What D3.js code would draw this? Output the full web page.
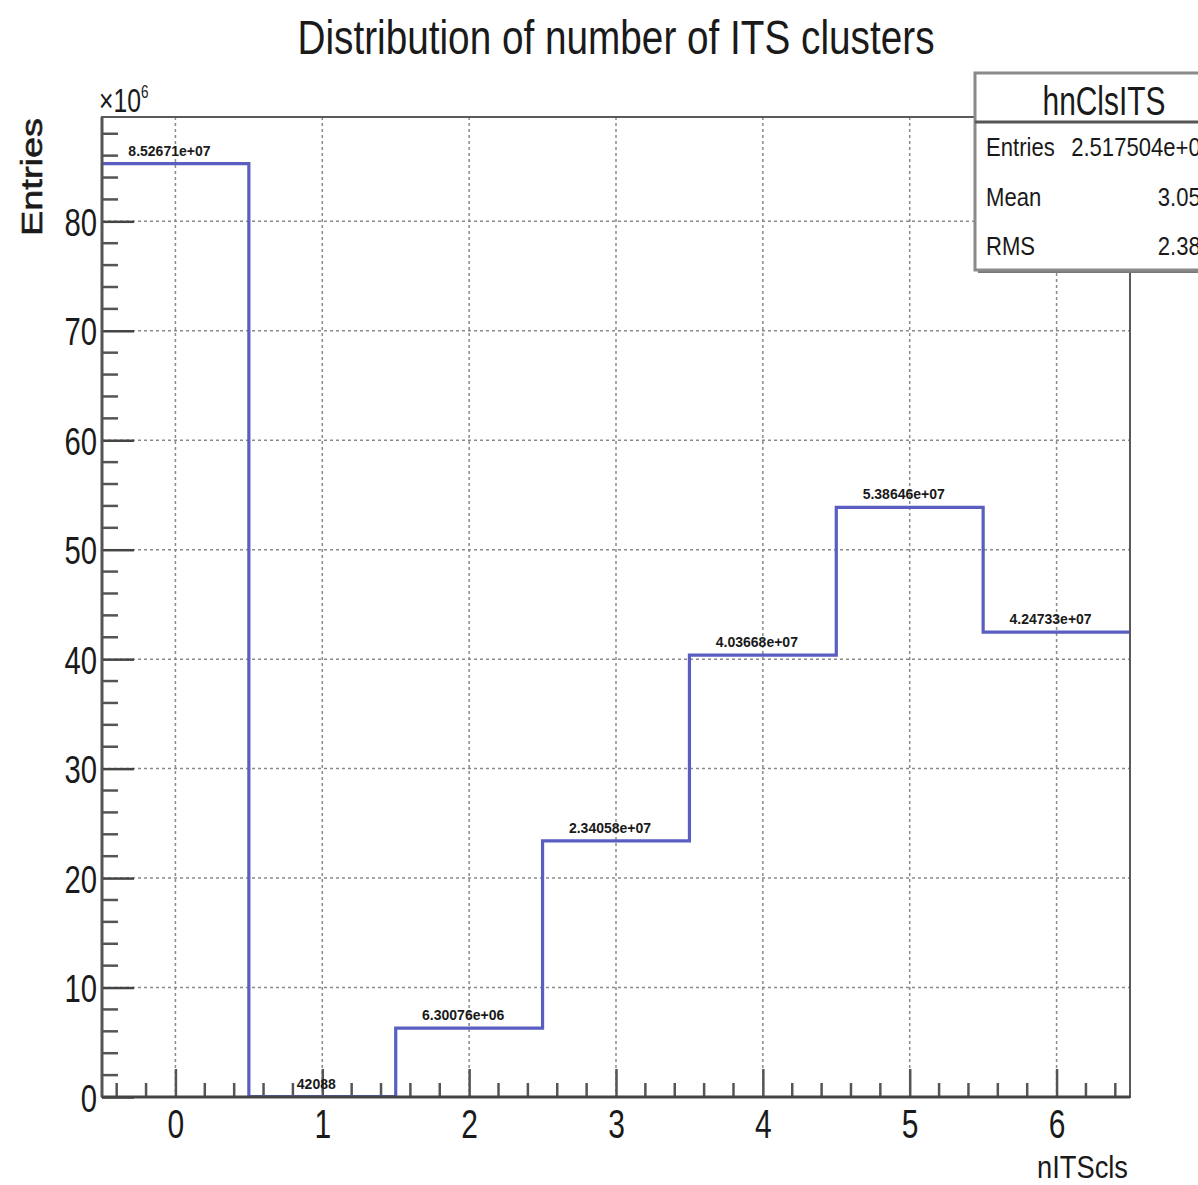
<!DOCTYPE html>
<html>
<head>
<meta charset="utf-8">
<script src="https://cdn.jsdelivr.net/npm/d3@7"></script>
<style>
  html, body { margin: 0; padding: 0; background: #fff; }
  svg { display: block; }
  text { font-family: "Liberation Sans", Arial, sans-serif; fill: #1a1a1a; }
</style>
</head>
<body>
<svg id="chart" width="1198" height="1185"></svg>
<script>
// Histogram hnClsITS: number of ITS clusters per track
const binCenters = [0, 1, 2, 3, 4, 5, 6];
const binCounts = [85267100, 42088, 6300760, 23405800, 40366800, 53864600, 42473300];
const xTicks = [0, 1, 2, 3, 4, 5, 6];
const yTicks = [0, 10, 20, 30, 40, 50, 60, 70, 80];   // in units of 10^6
const statsNames = ["Entries", "Mean", "RMS"];
const statsValues = ["2.517504e+08", "3.055", "2.383"];
const histName = "hnClsITS";
const titleText = "Distribution of number of ITS clusters";
const xTitle = "nITScls";
const yTitle = "Entries";

const plot = { left: 102, right: 1130, top: 117, bottom: 1097 };
const scaleUnit = 1e6;
const squeeze = 0.75;   // horizontal compression of the canvas text

const svg = d3.select("#chart");

const x = d3.scaleLinear().domain([-0.5, 6.5]).range([plot.left, plot.right]);
const yMax = d3.max(binCounts) * 1.05 / scaleUnit;
const y = d3.scaleLinear().domain([0, yMax]).range([plot.bottom, plot.top]);

// %g-style formatting (6 significant digits, two-digit exponent)
function formatG(v) {
  const exp = Math.floor(Math.log10(Math.abs(v)));
  if (exp >= 6 || exp < -4) {
    let s = d3.format(".5e")(v).replace(/\.?0+e/, "e");
    return s.replace(/e([+-])(\d)$/, "e$10$2");
  }
  return d3.format(".6~g")(v);
}

// grid
const grid = svg.append("g").attr("stroke", "#8a8a8a").attr("stroke-width", 1.5)
  .attr("stroke-dasharray", "3,3");
grid.selectAll("line.gx").data(xTicks).join("line")
  .attr("x1", d => x(d)).attr("x2", d => x(d))
  .attr("y1", plot.top).attr("y2", plot.bottom);
grid.selectAll("line.gy").data(yTicks.filter(d => d > 0)).join("line")
  .attr("x1", plot.left).attr("x2", plot.right)
  .attr("y1", d => y(d)).attr("y2", d => y(d));

// y axis ticks (inside), major every 10, minor every 2
const yAxis = d3.axisLeft(y).tickValues(yTicks).tickSize(-32).tickFormat(d3.format("d"));
const gy = svg.append("g").attr("transform", `translate(${plot.left},0)`).call(yAxis);
gy.select(".domain").remove();
gy.selectAll(".tick line").attr("stroke", "#444").attr("stroke-width", 2.5);
gy.selectAll(".tick text")
  .attr("x", 0).attr("dy", "0.36em")
  .attr("transform", `translate(-5,0) scale(${squeeze},1)`)
  .attr("text-anchor", "end")
  .style("font-size", "39px").attr("fill", "#1a1a1a");
const yMinor = d3.range(0, yMax, 2).filter(d => d % 10 !== 0);
svg.append("g").selectAll("line").data(yMinor).join("line")
  .attr("x1", plot.left).attr("x2", plot.left + 16)
  .attr("y1", d => y(d)).attr("y2", d => y(d))
  .attr("stroke", "#555").attr("stroke-width", 2.5);

// x axis ticks (inside), major every 1, minor every 0.2
const xAxis = d3.axisBottom(x).tickValues(xTicks).tickSize(-28).tickFormat(d3.format("d"));
const gx = svg.append("g").attr("transform", `translate(0,${plot.bottom})`).call(xAxis);
gx.select(".domain").remove();
gx.selectAll(".tick line").attr("stroke", "#555").attr("stroke-width", 2.5);
gx.selectAll(".tick text")
  .attr("y", 0).attr("dy", 0)
  .attr("transform", `translate(0,41) scale(${squeeze},1)`)
  .style("font-size", "40px").attr("fill", "#1a1a1a");
const xMinor = d3.range(-0.4, 6.5, 0.2).map(d => +d.toFixed(1))
  .filter(d => Math.abs(d - Math.round(d)) > 1e-6);
svg.append("g").selectAll("line").data(xMinor).join("line")
  .attr("x1", d => x(d)).attr("x2", d => x(d))
  .attr("y1", plot.bottom).attr("y2", plot.bottom - 14)
  .attr("stroke", "#555").attr("stroke-width", 2.5);

// histogram outline
const steps = [];
binCenters.forEach((c, i) => {
  const v = binCounts[i] / scaleUnit;
  steps.push([c - 0.5, v], [c + 0.5, v]);
});
const stepLine = d3.line().x(d => x(d[0])).y(d => y(d[1]));
svg.append("clipPath").attr("id", "plotclip").append("rect")
  .attr("x", plot.left).attr("y", plot.top)
  .attr("width", plot.right - plot.left).attr("height", plot.bottom - plot.top);
svg.append("path").datum(steps)
  .attr("clip-path", "url(#plotclip)")
  .attr("d", stepLine)
  .attr("fill", "none").attr("stroke", "#5a5ec0").attr("stroke-width", 3.2);

// bin content labels
svg.append("g").selectAll("text").data(binCenters).join("text")
  .attr("x", d => x(d) - 6)
  .attr("y", (d, i) => y(binCounts[i] / scaleUnit) - 8)
  .attr("text-anchor", "middle")
  .style("font-size", "14px").style("font-weight", "bold")
  .attr("fill", "#333")
  .text((d, i) => formatG(binCounts[i]));

// frame
svg.append("rect")
  .attr("x", plot.left).attr("y", plot.top)
  .attr("width", plot.right - plot.left).attr("height", plot.bottom - plot.top)
  .attr("fill", "none").attr("stroke", "#5a5a5a").attr("stroke-width", 2);
svg.append("line").attr("x1", plot.left).attr("x2", plot.left)
  .attr("y1", plot.top).attr("y2", plot.bottom).attr("stroke", "#555").attr("stroke-width", 3);
svg.append("line").attr("x1", plot.left).attr("x2", plot.right)
  .attr("y1", plot.bottom).attr("y2", plot.bottom).attr("stroke", "#444").attr("stroke-width", 3);

// exponent marker
const expLabel = svg.append("text")
  .attr("transform", `translate(99,112) scale(${squeeze},1)`)
  .style("font-size", "33px");
expLabel.append("tspan").text("\u00d710");
expLabel.append("tspan").attr("dy", -14).style("font-size", "18px").text("6");

// title
svg.append("text").attr("x", 616).attr("y", 54).attr("text-anchor", "middle")
  .style("font-size", "48px").attr("textLength", 637).attr("lengthAdjust", "spacingAndGlyphs")
  .text(titleText);

// axis titles
svg.append("text").attr("x", 1128).attr("y", 1178).attr("text-anchor", "end")
  .style("font-size", "32px").attr("textLength", 91).attr("lengthAdjust", "spacingAndGlyphs")
  .text(xTitle);
svg.append("text").attr("transform", "translate(42,118) rotate(-90)").attr("text-anchor", "end")
  .style("font-size", "30px").attr("textLength", 118).attr("lengthAdjust", "spacingAndGlyphs")
  .attr("stroke", "#1a1a1a").attr("stroke-width", 0.6)
  .text(yTitle);

// statistics box (runs past the right edge of the canvas)
const box = { x: 975, y: 73, w: 260, h: 197 };
svg.append("rect").attr("x", box.x + 3).attr("y", box.y + 3).attr("width", box.w).attr("height", box.h)
  .attr("fill", "#777");
svg.append("rect").attr("x", box.x).attr("y", box.y).attr("width", box.w).attr("height", box.h)
  .attr("fill", "#fff").attr("stroke", "#8a8a8a").attr("stroke-width", 3);
svg.append("line").attr("x1", box.x).attr("x2", box.x + box.w)
  .attr("y1", 122).attr("y2", 122).attr("stroke", "#555").attr("stroke-width", 3);
svg.append("text").attr("x", 1104).attr("y", 115).attr("text-anchor", "middle")
  .style("font-size", "41px").attr("textLength", 123).attr("lengthAdjust", "spacingAndGlyphs")
  .text(histName);
const rowY = [156, 206, 255];
svg.append("g").selectAll("text").data(statsNames).join("text")
  .attr("transform", (d, i) => `translate(986,${rowY[i]}) scale(0.85,1)`)
  .style("font-size", "26px").attr("fill", "#333")
  .text(d => d);
svg.append("g").selectAll("text").data(statsValues).join("text")
  .attr("transform", (d, i) => `translate(1213,${rowY[i]}) scale(0.85,1)`)
  .attr("text-anchor", "end")
  .style("font-size", "26px").attr("fill", "#333")
  .text(d => d);
</script>
</body>
</html>
